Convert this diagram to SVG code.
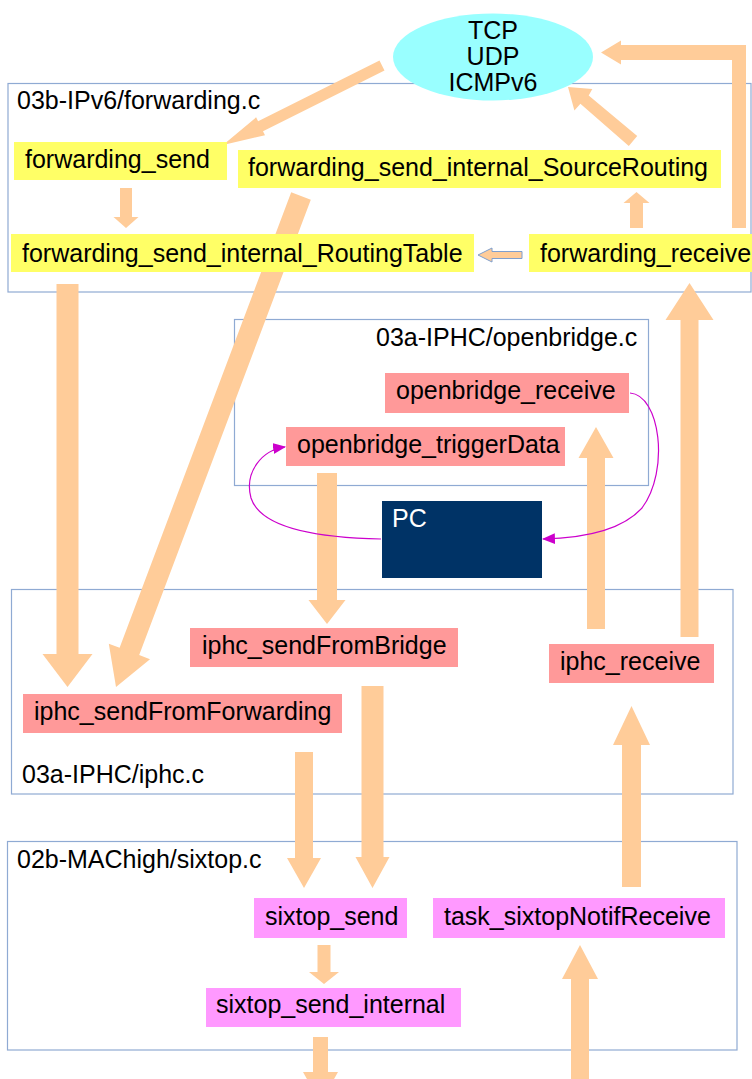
<svg xmlns="http://www.w3.org/2000/svg" width="752" height="1079" viewBox="0 0 752 1079">
  <defs>
    <style>
      text { font-family: "Liberation Sans", Arial, sans-serif; font-size: 25px; fill: #000; }
      .module { fill: none; stroke: #8faad3; stroke-width: 1.2; }
      .fwd { fill: #ffff66; }
      .iphc { fill: #ff9999; }
      .six { fill: #ff99ff; }
      .flow { fill: #ffcc99; stroke: none; }
      .serial { fill: none; stroke: #cc00cc; stroke-width: 1.2; }
    </style>
    <marker id="serialHead" viewBox="0 0 12 10" refX="11" refY="5" markerWidth="13" markerHeight="11" markerUnits="userSpaceOnUse" orient="auto">
      <path d="M0,0 L12,5 L0,10 z" fill="#cc00cc"/>
    </marker>
  </defs>

  <rect width="752" height="1079" fill="#ffffff"/>

  <!-- source file modules -->
  <g id="module-forwarding">
    <rect class="module" x="8" y="83.5" width="743" height="208.5"/>
    <text x="17" y="109">03b-IPv6/forwarding.c</text>
  </g>
  <g id="module-openbridge">
    <rect class="module" x="234.5" y="319.5" width="414" height="166"/>
    <text x="376" y="346">03a-IPHC/openbridge.c</text>
  </g>
  <g id="module-iphc">
    <rect class="module" x="11.5" y="589.5" width="721.5" height="204.5"/>
    <text x="22" y="783">03a-IPHC/iphc.c</text>
  </g>
  <g id="module-sixtop">
    <rect class="module" x="7.5" y="841.5" width="729.5" height="208.5"/>
    <text x="17" y="868">02b-MAChigh/sixtop.c</text>
  </g>

  <!-- transport layer -->
  <g id="transport">
    <ellipse cx="493" cy="57" rx="100" ry="43.5" fill="#99ffff"/>
    <text x="493" y="39" text-anchor="middle">TCP</text>
    <text x="493" y="65" text-anchor="middle">UDP</text>
    <text x="493" y="91" text-anchor="middle">ICMPv6</text>
  </g>

  <!-- call flow -->
  <g id="connectors">
    <polygon class="flow" points="384.5,70.4 263,131.2 265,135.2 223,145 256.1,117.3 258.1,121.3 379.5,60.6"/>
    <polygon class="flow" points="120,188 132,188 132,217 138.5,217 126,228 113.5,217 120,217"/>
    <polygon class="flow" points="630,228 643,228 643,203 649.5,203 636.5,192 623.5,203 630,203"/>
    <polygon class="flow" points="637.2,136 588.7,95.5 592.3,89 568,87 574.4,110.6 580.4,103.8 628.8,146"/>
    <polygon class="flow" points="746,228 746,45 621,45 621,40.5 601,52.5 621,64.5 621,60 732,60 732,228"/>
    <polygon points="478,255 492,248 492,251.5 522,251.5 522,258.5 492,258.5 492,262" fill="#ffcc99" stroke="#7f9fce" stroke-width="1"/>
    <polygon class="flow" points="56.5,284 78.5,284 78.5,654 92.5,654 67.5,687 42.5,654 56.5,654"/>
    <polygon class="flow" points="310.8,199.7 139.2,655.1 150,659.2 116,687 108.8,643.7 119.6,647.7 291.2,192.3"/>
    <polygon class="flow" points="317,473 337,473 337,600 345.5,600 327,624 308.5,600 317,600"/>
    <polygon class="flow" points="587,629 605,629 605,458 613.5,458 596,427 578.5,458 587,458"/>
    <polygon class="flow" points="680.5,637 698.5,637 698.5,320 713.5,320 689.5,283 665.5,320 680.5,320"/>
    <polygon class="flow" points="361.5,686 383.5,686 383.5,857 389.5,857 372.5,888 355.5,857 361.5,857"/>
    <polygon class="flow" points="295,752 313,752 313,858 321,858 304,888 287,858 295,858"/>
    <polygon class="flow" points="622,887 641,887 641,745 650,745 631.5,706 613,745 622,745"/>
    <polygon class="flow" points="317.5,945 330.5,945 330.5,972 339,972 324,984 309,972 317.5,972"/>
    <polygon class="flow" points="313,1037 328,1037 328,1072 338,1072 320.5,1103 303,1072 313,1072"/>
    <polygon class="flow" points="571,1090 589,1090 589,979 598,979 580,945 562,979 571,979"/>
    <path class="serial" d="M630,393 C660,395 670,470 642,508 C622,530 585,538 543,539" marker-end="url(#serialHead)"/>
    <path class="serial" d="M381,539 C330,538 262,532 251,498 C244,472 262,450 285,447" marker-end="url(#serialHead)"/>
  </g>

  <!-- forwarding.c functions -->
  <g id="forwarding_send">
    <rect class="fwd" x="14" y="142" width="213" height="38"/>
    <text x="25" y="168">forwarding_send</text>
  </g>
  <g id="forwarding_send_internal_SourceRouting">
    <rect class="fwd" x="238" y="150" width="483" height="38"/>
    <text x="248" y="176">forwarding_send_internal_SourceRouting</text>
  </g>
  <g id="forwarding_send_internal_RoutingTable">
    <rect class="fwd" x="11" y="234" width="463" height="38"/>
    <text x="22" y="262">forwarding_send_internal_RoutingTable</text>
  </g>
  <g id="forwarding_receive">
    <rect class="fwd" x="529" y="234" width="230" height="38"/>
    <text x="540" y="262">forwarding_receive</text>
  </g>

  <!-- openbridge.c functions -->
  <g id="openbridge_receive">
    <rect class="iphc" x="385" y="373" width="244" height="40"/>
    <text x="396" y="399">openbridge_receive</text>
  </g>
  <g id="openbridge_triggerData">
    <rect class="iphc" x="286" y="427" width="279" height="39"/>
    <text x="297" y="453">openbridge_triggerData</text>
  </g>
  <g id="pc">
    <rect x="382" y="501" width="160" height="77" fill="#003366"/>
    <text x="392" y="527" style="fill:#ffffff">PC</text>
  </g>

  <!-- iphc.c functions -->
  <g id="iphc_sendFromBridge">
    <rect class="iphc" x="190" y="628" width="268" height="39"/>
    <text x="202" y="654">iphc_sendFromBridge</text>
  </g>
  <g id="iphc_receive">
    <rect class="iphc" x="549" y="644" width="165" height="39"/>
    <text x="560" y="670">iphc_receive</text>
  </g>
  <g id="iphc_sendFromForwarding">
    <rect class="iphc" x="23" y="694" width="319" height="39"/>
    <text x="34" y="720">iphc_sendFromForwarding</text>
  </g>

  <!-- sixtop.c functions -->
  <g id="sixtop_send">
    <rect class="six" x="254" y="898" width="153" height="40"/>
    <text x="265" y="925">sixtop_send</text>
  </g>
  <g id="task_sixtopNotifReceive">
    <rect class="six" x="433" y="898" width="292" height="40"/>
    <text x="444" y="925">task_sixtopNotifReceive</text>
  </g>
  <g id="sixtop_send_internal">
    <rect class="six" x="206" y="988" width="255" height="39"/>
    <text x="216" y="1013">sixtop_send_internal</text>
  </g>
</svg>
